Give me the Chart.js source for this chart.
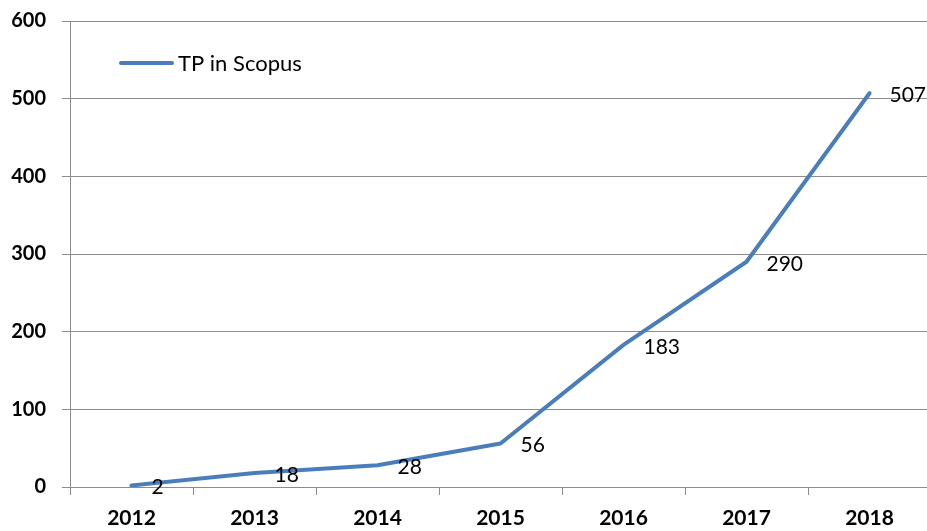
<!DOCTYPE html>
<html>
<head>
<meta charset="utf-8">
<script src="https://cdn.jsdelivr.net/npm/chart.js@4.4.0/dist/chart.umd.min.js"></script>
<style>
  html, body { margin: 0; padding: 0; background: #fff; overflow: hidden; }
  .wrap { width: 931px; height: 538px; margin-top: -7px; }
</style>
</head>
<body>
<div class="wrap"><canvas id="chart"></canvas></div>
<script>
// dados
const years = ["2012", "2013", "2014", "2015", "2016", "2017", "2018"];
const tpScopus = [2, 18, 28, 56, 183, 290, 507];
const seriesName = "TP in Scopus";
const yTicks = [0, 100, 200, 300, 400, 500, 600];

const lineColor = "#4A7EBB";
const gridColor = "#8C8C8C";
const fontFamily = "Lato, 'Open Sans', sans-serif";

// rótulos de valor à direita de cada ponto
const valueLabels = {
  id: "valueLabels",
  afterDatasetsDraw(chart) {
    const ctx = chart.ctx;
    const meta = chart.getDatasetMeta(0);
    ctx.save();
    ctx.font = "21px " + fontFamily;
    ctx.fillStyle = "#000";
    ctx.textAlign = "left";
    ctx.textBaseline = "middle";
    meta.data.forEach((pt, i) => {
      ctx.fillText(String(tpScopus[i]), pt.x + 20, pt.y + 2);
    });
    ctx.restore();
  },
};

// legenda dentro da área do gráfico
const innerLegend = {
  id: "innerLegend",
  afterDraw(chart) {
    const ctx = chart.ctx;
    const a = chart.chartArea;
    const x = a.left + 51;
    const y = a.top + 42;
    ctx.save();
    ctx.strokeStyle = lineColor;
    ctx.lineWidth = 4;
    ctx.lineCap = "round";
    ctx.beginPath();
    ctx.moveTo(x, y);
    ctx.lineTo(x + 51, y);
    ctx.stroke();
    ctx.font = "22px " + fontFamily;
    ctx.fillStyle = "#000";
    ctx.textBaseline = "middle";
    ctx.fillText(seriesName, x + 57, y + 1);
    ctx.restore();
  },
};

new Chart(document.getElementById("chart"), {
  type: "line",
  data: {
    labels: years,
    datasets: [
      {
        label: seriesName,
        data: tpScopus,
        borderColor: lineColor,
        borderWidth: 4,
        pointRadius: 0,
        tension: 0,
        borderCapStyle: "round",
        borderJoinStyle: "round",
      },
    ],
  },
  options: {
    responsive: true,
    maintainAspectRatio: false,
    animation: false,
    layout: { padding: { top: 13, left: 0, right: 0, bottom: 0 } },
    plugins: {
      legend: { display: false },
      tooltip: { enabled: false },
    },
    scales: {
      x: {
        offset: true,
        grid: {
          offset: true,
          drawOnChartArea: false,
          tickLength: 8,
          color: gridColor,
        },
        border: { color: gridColor, width: 1 },
        ticks: {
          color: "#000",
          font: { family: fontFamily, size: 21, weight: "bold" },
          padding: 11,
          maxRotation: 0,
        },
        afterFit(scale) { scale.height = 44; },
      },
      y: {
        min: 0,
        max: 600,
        afterBuildTicks(scale) { scale.ticks = yTicks.map(v => ({ value: v })); },
        grid: { color: gridColor, tickLength: 8 },
        border: { color: gridColor, width: 1 },
        ticks: {
          color: "#000",
          font: { family: fontFamily, size: 20, weight: "bold" },
          padding: 16,
        },
        afterFit(scale) { scale.width = 70; },
      },
    },
  },
  plugins: [valueLabels, innerLegend],
});
</script>
</body>
</html>
